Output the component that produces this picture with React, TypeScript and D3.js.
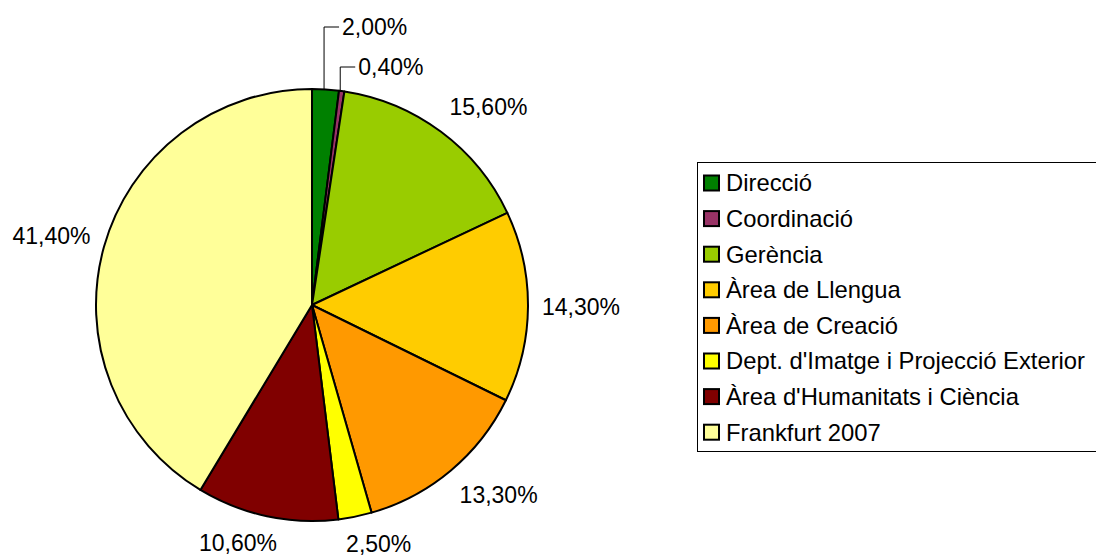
import React from "react";
import * as d3 from "d3";

const categories = [
  "Direcció",
  "Coordinació",
  "Gerència",
  "Àrea de Llengua",
  "Àrea de Creació",
  "Dept. d'Imatge i Projecció Exterior",
  "Àrea d'Humanitats i Ciència",
  "Frankfurt 2007",
];
const values = [2.0, 0.4, 15.6, 14.3, 13.3, 2.5, 10.6, 41.4];
const valueLabels = ["2,00%", "0,40%", "15,60%", "14,30%", "13,30%", "2,50%", "10,60%", "41,40%"];
const colors = ["#008000", "#993366", "#99CC00", "#FFCC00", "#FF9900", "#FFFF00", "#800000", "#FFFF99"];

const W = 1096;
const H = 557;
const CX = 312;
const CY = 305;
const R = 216;
const FONT = "'Liberation Sans', Arial, Helvetica, sans-serif";
const LABEL_FS = 23;
const LEGEND_FS = 23.8;
// leader-line rise above the pie rim for the two tiny slices
const leaderRise: Record<number, number> = { 0: 62, 1: 22 };

function measure(text: string, fs: number): number {
  if (typeof document === "undefined") return text.length * fs * 0.55;
  const c = document.createElement("canvas");
  const ctx = c.getContext("2d");
  if (!ctx) return text.length * fs * 0.55;
  ctx.font = `${fs}px ${FONT}`;
  return ctx.measureText(text).width;
}

export default function App() {
  const pie = d3
    .pie<number>()
    .sort(null)
    .value((d) => d)(values);
  const arc = d3.arc<d3.PieArcDatum<number>>().innerRadius(0).outerRadius(R);

  const labels = pie.map((p, i) => {
    const a = (p.startAngle + p.endAngle) / 2;
    const s = Math.sin(a);
    const c = Math.cos(a);
    const text = valueLabels[i];
    const w = measure(text, LABEL_FS);
    const h = LABEL_FS * 1.15;
    if (leaderRise[i] !== undefined) {
      const x0 = CX + R * s - 1.5;
      const y0 = CY - R * c;
      const y1 = CY - R - leaderRise[i];
      const x1 = x0 + 15;
      return (
        <g key={"l" + i}>
          <polyline
            points={`${x0},${y0} ${x0},${y1} ${x1},${y1}`}
            fill="none"
            stroke="#000"
            strokeWidth={1}
          />
          <text x={x1 + 3} y={y1 + LABEL_FS * 0.35} fontSize={LABEL_FS} fontFamily={FONT} fill="#000">
            {text}
          </text>
        </g>
      );
    }
    const rr = R + 14;
    const px = CX + rr * s;
    const py = CY - rr * c;
    const fx = Math.max(0, Math.min(1, 0.5 - 1.6 * s));
    const fy = Math.max(0, Math.min(1, 0.5 + 1.0 * c));
    const left = px - fx * w;
    const top = py - fy * h;
    return (
      <text
        key={"l" + i}
        x={left}
        y={top + h / 2 + LABEL_FS * 0.35}
        fontSize={LABEL_FS}
        fontFamily={FONT}
        fill="#000"
      >
        {text}
      </text>
    );
  });

  const legendX = 697;
  const legendY = 162.5;
  const legendH = 289;
  const rowStart = 183;
  const rowStep = 35.6;

  return (
    <svg
      width={W}
      height={H}
      style={{ position: "absolute", left: 0, top: 0, background: "#fff" }}
    >
      <rect x={0} y={0} width={W} height={H} fill="#fff" />
      <g transform={`translate(${CX},${CY})`}>
        {pie.map((p, i) => (
          <path key={i} d={arc(p) || ""} fill={colors[i]} stroke="#000" strokeWidth={2} strokeLinejoin="round" />
        ))}
      </g>
      {labels}
      <rect
        x={legendX + 0.5}
        y={legendY}
        width={W}
        height={legendH}
        fill="#fff"
        stroke="#000"
        strokeWidth={1}
      />
      {categories.map((cat, i) => {
        const cy = rowStart + i * rowStep;
        return (
          <g key={"lg" + i}>
            <rect x={704} y={cy - 7.5} width={15} height={15} fill={colors[i]} stroke="#000" strokeWidth={2} />
            <text x={726} y={cy + LEGEND_FS * 0.35} fontSize={LEGEND_FS} fontFamily={FONT} fill="#000">
              {cat}
            </text>
          </g>
        );
      })}
    </svg>
  );
}
